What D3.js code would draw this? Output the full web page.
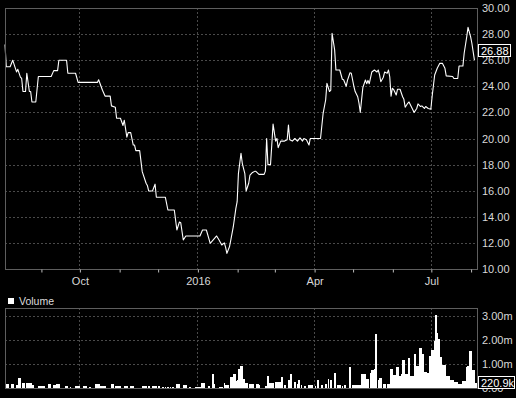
<!DOCTYPE html>
<html>
<head>
<meta charset="utf-8">
<script src="https://cdn.jsdelivr.net/npm/d3@7"></script>
<style>
  html, body { margin: 0; padding: 0; background: #000; }
  svg { display: block; }
  text { font-family: "Liberation Sans", Arial, sans-serif; }
</style>
</head>
<body>
<div id="graf"></div>
<script>
// Precio de cierre (fecha, valor)
const precios = [
  ["2015-08-04", 27.2], ["2015-08-05", 25.5], ["2015-08-08", 25.5], ["2015-08-10", 26.0],
  ["2015-08-13", 25.1], ["2015-08-14", 25.3], ["2015-08-16", 24.7], ["2015-08-17", 24.6],
  ["2015-08-18", 23.6], ["2015-08-20", 23.6], ["2015-08-21", 25.0], ["2015-08-23", 23.6],
  ["2015-08-24", 23.6], ["2015-08-25", 22.8], ["2015-08-28", 22.8], ["2015-08-30", 24.75],
  ["2015-09-09", 24.75], ["2015-09-11", 25.2], ["2015-09-14", 25.2], ["2015-09-15", 26.0],
  ["2015-09-21", 26.0], ["2015-09-22", 25.0], ["2015-09-28", 25.0], ["2015-09-30", 24.3],
  ["2015-10-15", 24.3], ["2015-10-16", 24.5], ["2015-10-19", 23.7], ["2015-10-21", 23.25],
  ["2015-10-25", 23.25], ["2015-10-26", 22.5], ["2015-10-29", 22.4], ["2015-10-30", 21.55],
  ["2015-11-02", 21.55], ["2015-11-04", 21.0], ["2015-11-05", 21.4], ["2015-11-07", 20.1],
  ["2015-11-08", 20.45], ["2015-11-10", 20.45], ["2015-11-12", 19.5], ["2015-11-13", 19.5],
  ["2015-11-14", 19.07], ["2015-11-17", 19.07], ["2015-11-19", 17.46], ["2015-11-22", 16.57],
  ["2015-11-23", 16.4], ["2015-11-24", 15.98], ["2015-11-27", 15.98], ["2015-11-29", 16.5],
  ["2015-11-30", 15.5], ["2015-12-07", 15.5], ["2015-12-09", 14.52], ["2015-12-14", 14.52],
  ["2015-12-16", 12.99], ["2015-12-18", 13.6], ["2015-12-19", 13.55], ["2015-12-21", 12.22],
  ["2015-12-23", 12.53], ["2016-01-03", 12.53], ["2016-01-05", 12.99], ["2016-01-08", 12.99],
  ["2016-01-11", 11.97], ["2016-01-13", 12.2], ["2016-01-16", 12.53], ["2016-01-18", 12.2],
  ["2016-01-20", 11.84], ["2016-01-22", 12.0], ["2016-01-23", 11.66], ["2016-01-24", 11.2],
  ["2016-01-26", 11.7], ["2016-01-27", 12.2], ["2016-01-29", 13.24], ["2016-01-31", 14.65],
  ["2016-02-01", 15.16], ["2016-02-02", 17.33], ["2016-02-04", 18.86], ["2016-02-05", 18.1],
  ["2016-02-06", 17.7], ["2016-02-07", 17.3], ["2016-02-08", 15.98], ["2016-02-10", 16.57],
  ["2016-02-11", 17.2], ["2016-02-13", 17.4], ["2016-02-15", 17.5], ["2016-02-16", 17.45],
  ["2016-02-18", 17.25], ["2016-02-22", 17.25], ["2016-02-23", 17.5], ["2016-02-24", 20.0],
  ["2016-02-25", 18.0], ["2016-02-27", 18.0], ["2016-02-28", 19.5], ["2016-02-29", 21.1],
  ["2016-03-02", 19.8], ["2016-03-03", 20.0], ["2016-03-04", 19.3], ["2016-03-06", 19.8],
  ["2016-03-09", 19.8], ["2016-03-11", 19.9], ["2016-03-12", 21.03], ["2016-03-13", 19.9],
  ["2016-03-15", 19.8], ["2016-03-17", 20.0], ["2016-03-19", 19.8], ["2016-03-21", 20.05],
  ["2016-03-23", 19.8], ["2016-03-24", 20.0], ["2016-03-26", 19.9], ["2016-03-28", 19.5],
  ["2016-03-29", 20.0], ["2016-04-06", 20.0], ["2016-04-08", 21.9], ["2016-04-10", 22.95],
  ["2016-04-11", 24.23], ["2016-04-13", 23.6], ["2016-04-14", 23.7], ["2016-04-15", 28.06],
  ["2016-04-17", 26.8], ["2016-04-18", 25.25], ["2016-04-21", 25.25], ["2016-04-23", 24.54],
  ["2016-04-24", 24.5], ["2016-04-26", 24.0], ["2016-04-27", 24.45], ["2016-04-29", 25.04],
  ["2016-04-30", 25.0], ["2016-05-02", 24.0], ["2016-05-03", 23.6], ["2016-05-05", 23.2],
  ["2016-05-06", 22.7], ["2016-05-07", 22.0], ["2016-05-09", 23.9], ["2016-05-11", 24.48],
  ["2016-05-12", 24.2], ["2016-05-13", 24.45], ["2016-05-14", 24.2], ["2016-05-16", 25.1],
  ["2016-05-18", 25.25], ["2016-05-20", 25.1], ["2016-05-21", 25.25], ["2016-05-22", 24.9],
  ["2016-05-23", 24.35], ["2016-05-25", 24.7], ["2016-05-26", 25.1], ["2016-05-28", 25.0],
  ["2016-05-29", 25.25], ["2016-05-30", 24.7], ["2016-05-31", 23.25], ["2016-06-01", 23.85],
  ["2016-06-02", 23.75], ["2016-06-04", 23.33], ["2016-06-05", 23.77], ["2016-06-07", 23.77],
  ["2016-06-09", 23.2], ["2016-06-10", 23.0], ["2016-06-11", 22.4], ["2016-06-13", 22.7],
  ["2016-06-14", 22.8], ["2016-06-16", 22.4], ["2016-06-18", 22.0], ["2016-06-20", 22.3],
  ["2016-06-21", 22.65], ["2016-06-23", 22.45], ["2016-06-24", 22.5], ["2016-06-26", 22.3],
  ["2016-06-27", 22.45], ["2016-06-29", 22.3], ["2016-07-01", 22.24], ["2016-07-02", 23.2],
  ["2016-07-04", 24.87], ["2016-07-06", 25.38], ["2016-07-08", 25.76], ["2016-07-10", 25.76],
  ["2016-07-12", 25.38], ["2016-07-13", 24.8], ["2016-07-18", 24.75], ["2016-07-19", 24.6],
  ["2016-07-22", 24.6], ["2016-07-23", 25.55], ["2016-07-26", 25.55], ["2016-07-27", 26.53],
  ["2016-07-29", 27.8], ["2016-07-30", 28.52], ["2016-08-01", 27.8], ["2016-08-02", 27.3],
  ["2016-08-04", 26.0]
]

// Volumen diario en millones (fecha, valor)
const volumen = [
  ["2015-08-05", 0.18], ["2015-08-06", 0.18], ["2015-08-09", 0.18], ["2015-08-10", 0.18],
  ["2015-08-13", 0.14], ["2015-08-15", 0.40], ["2015-08-16", 0.40], ["2015-08-18", 0.22],
  ["2015-08-19", 0.22], ["2015-08-21", 0.22], ["2015-08-22", 0.22], ["2015-08-23", 0.22],
  ["2015-08-24", 0.22], ["2015-08-25", 0.11], ["2015-08-26", 0.11], ["2015-08-30", 0.10],
  ["2015-08-31", 0.10], ["2015-09-01", 0.10], ["2015-09-02", 0.10], ["2015-09-03", 0.10],
  ["2015-09-07", 0.18], ["2015-09-08", 0.18], ["2015-09-11", 0.11], ["2015-09-12", 0.11],
  ["2015-09-13", 0.15], ["2015-09-14", 0.15], ["2015-09-15", 0.15], ["2015-09-20", 0.10],
  ["2015-09-21", 0.10], ["2015-09-24", 0.04], ["2015-09-28", 0.08], ["2015-09-29", 0.08],
  ["2015-09-30", 0.08], ["2015-10-01", 0.08], ["2015-10-04", 0.07], ["2015-10-05", 0.07],
  ["2015-10-06", 0.07], ["2015-10-09", 0.06], ["2015-10-14", 0.18], ["2015-10-15", 0.18],
  ["2015-10-16", 0.18], ["2015-10-17", 0.08], ["2015-10-18", 0.08], ["2015-10-19", 0.08],
  ["2015-10-20", 0.08], ["2015-10-21", 0.08], ["2015-10-26", 0.18], ["2015-10-27", 0.18],
  ["2015-10-29", 0.07], ["2015-10-30", 0.07], ["2015-10-31", 0.07], ["2015-11-01", 0.07],
  ["2015-11-02", 0.07], ["2015-11-05", 0.08], ["2015-11-06", 0.08], ["2015-11-07", 0.08],
  ["2015-11-10", 0.08], ["2015-11-11", 0.08], ["2015-11-12", 0.08], ["2015-11-19", 0.07],
  ["2015-11-20", 0.07], ["2015-11-21", 0.07], ["2015-11-22", 0.07], ["2015-11-24", 0.10],
  ["2015-11-27", 0.07], ["2015-11-28", 0.07], ["2015-11-29", 0.07], ["2015-11-30", 0.07],
  ["2015-12-02", 0.07], ["2015-12-05", 0.03], ["2015-12-07", 0.03], ["2015-12-09", 0.03],
  ["2015-12-11", 0.03], ["2015-12-13", 0.03], ["2015-12-16", 0.17], ["2015-12-17", 0.17],
  ["2015-12-18", 0.17], ["2015-12-21", 0.14], ["2015-12-22", 0.14], ["2015-12-23", 0.14],
  ["2015-12-26", 0.03], ["2015-12-31", 0.06], ["2016-01-01", 0.06], ["2016-01-02", 0.06],
  ["2016-01-03", 0.06], ["2016-01-04", 0.22], ["2016-01-05", 0.22], ["2016-01-06", 0.22],
  ["2016-01-10", 0.10], ["2016-01-13", 0.57], ["2016-01-14", 0.18], ["2016-01-18", 0.06],
  ["2016-01-19", 0.06], ["2016-01-20", 0.06], ["2016-01-22", 0.22], ["2016-01-23", 0.14],
  ["2016-01-24", 0.14], ["2016-01-25", 0.14], ["2016-01-27", 0.44], ["2016-01-28", 0.44],
  ["2016-01-29", 0.60], ["2016-01-30", 0.60], ["2016-01-31", 0.28], ["2016-02-01", 0.35],
  ["2016-02-02", 0.78], ["2016-02-03", 0.78], ["2016-02-04", 0.90], ["2016-02-05", 0.90],
  ["2016-02-06", 0.39], ["2016-02-08", 0.22], ["2016-02-09", 0.22], ["2016-02-11", 0.18],
  ["2016-02-12", 0.18], ["2016-02-13", 0.15], ["2016-02-16", 0.18], ["2016-02-17", 0.18],
  ["2016-02-18", 0.14], ["2016-02-23", 0.07], ["2016-02-24", 0.07], ["2016-02-25", 0.49],
  ["2016-02-26", 0.21], ["2016-02-27", 0.21], ["2016-02-28", 0.21], ["2016-02-29", 0.21],
  ["2016-03-02", 0.24], ["2016-03-03", 0.24], ["2016-03-04", 0.24], ["2016-03-05", 0.24],
  ["2016-03-06", 0.24], ["2016-03-07", 0.46], ["2016-03-09", 0.11], ["2016-03-12", 0.32],
  ["2016-03-13", 0.32], ["2016-03-14", 0.60], ["2016-03-17", 0.25], ["2016-03-19", 0.18],
  ["2016-03-20", 0.35], ["2016-03-22", 0.11], ["2016-03-25", 0.07], ["2016-03-28", 0.11],
  ["2016-03-29", 0.11], ["2016-03-30", 0.11], ["2016-04-02", 0.10], ["2016-04-04", 0.32],
  ["2016-04-07", 0.11], ["2016-04-10", 0.18], ["2016-04-12", 0.38], ["2016-04-14", 0.32],
  ["2016-04-17", 0.64], ["2016-04-19", 0.11], ["2016-04-20", 0.11], ["2016-04-21", 0.11],
  ["2016-04-23", 0.07], ["2016-04-25", 0.11], ["2016-04-29", 0.89], ["2016-05-01", 0.11],
  ["2016-05-02", 0.11], ["2016-05-03", 0.11], ["2016-05-04", 0.14], ["2016-05-05", 0.14],
  ["2016-05-06", 0.14], ["2016-05-07", 0.14], ["2016-05-08", 0.60], ["2016-05-09", 0.60],
  ["2016-05-10", 0.60], ["2016-05-11", 0.60], ["2016-05-12", 0.39], ["2016-05-13", 0.39],
  ["2016-05-15", 0.63], ["2016-05-16", 0.74], ["2016-05-17", 0.74], ["2016-05-18", 0.80],
  ["2016-05-19", 2.26], ["2016-05-21", 0.32], ["2016-05-22", 0.43], ["2016-05-23", 0.43],
  ["2016-05-25", 0.15], ["2016-05-26", 0.15], ["2016-05-28", 0.18], ["2016-05-29", 0.18],
  ["2016-05-30", 0.18], ["2016-05-31", 0.80], ["2016-06-01", 0.80], ["2016-06-02", 0.53],
  ["2016-06-03", 0.53], ["2016-06-04", 0.87], ["2016-06-05", 0.87], ["2016-06-06", 0.49],
  ["2016-06-07", 0.49], ["2016-06-08", 0.60], ["2016-06-09", 1.18], ["2016-06-10", 1.18],
  ["2016-06-11", 0.57], ["2016-06-12", 0.57], ["2016-06-13", 0.57], ["2016-06-14", 1.26],
  ["2016-06-15", 0.49], ["2016-06-16", 0.49], ["2016-06-17", 0.49], ["2016-06-18", 1.43],
  ["2016-06-19", 1.43], ["2016-06-20", 0.90], ["2016-06-21", 0.90], ["2016-06-22", 1.68],
  ["2016-06-23", 1.68], ["2016-06-24", 1.43], ["2016-06-25", 1.43], ["2016-06-26", 0.67],
  ["2016-06-27", 0.67], ["2016-06-28", 0.63], ["2016-06-29", 0.63], ["2016-06-30", 1.32],
  ["2016-07-01", 1.32], ["2016-07-02", 1.57], ["2016-07-03", 1.57], ["2016-07-04", 1.94],
  ["2016-07-05", 3.03], ["2016-07-06", 2.29], ["2016-07-07", 2.05], ["2016-07-08", 1.29],
  ["2016-07-09", 1.29], ["2016-07-10", 0.94], ["2016-07-11", 0.94], ["2016-07-12", 0.94],
  ["2016-07-13", 0.49], ["2016-07-14", 0.49], ["2016-07-15", 0.49], ["2016-07-16", 0.32],
  ["2016-07-17", 0.32], ["2016-07-18", 0.32], ["2016-07-19", 0.25], ["2016-07-20", 0.25],
  ["2016-07-21", 0.25], ["2016-07-22", 0.18], ["2016-07-23", 0.18], ["2016-07-24", 0.18],
  ["2016-07-25", 0.18], ["2016-07-26", 0.28], ["2016-07-27", 0.28], ["2016-07-28", 0.28],
  ["2016-07-29", 0.87], ["2016-07-30", 0.90], ["2016-07-31", 1.53], ["2016-08-01", 1.53],
  ["2016-08-02", 0.76], ["2016-08-03", 0.76], ["2016-08-04", 0.74], ["2016-08-05", 0.22]
]

// Ejes y etiquetas
const rangoFechas = ["2015-08-04", "2016-08-06"]
const trimestres = ["2015-10-01", "2016-01-01", "2016-04-01", "2016-07-01"]
const etiquetasTrimestre = ["Oct", "2016", "Apr", "Jul"]
const ticksPrecio = [10, 12, 14, 16, 18, 20, 22, 24, 26, 28, 30]
const ticksVolumen = [0, 1, 2, 3]
const ultimoPrecio = "26.88"
const ultimoVolumen = "220.9k"

const parse = d3.timeParse("%Y-%m-%d")
const xAccessor = (d) => parse(d[0])
const yAccessor = (d) => d[1]

const draw = () => {
  const anchoTotal = 516
  const altoTotal = 398

  // Paneles
  const precio = { left: 5, right: 477, top: 8, bottom: 269 }
  const vol = { left: 5, right: 477, top: 308, bottom: 388 }

  const svg = d3.select("#graf")
    .append("svg")
    .attr("width", anchoTotal)
    .attr("height", altoTotal)

  svg.append("rect")
    .attr("width", anchoTotal)
    .attr("height", altoTotal)
    .attr("fill", "#000")

  // Escaladores
  const x = d3.scaleTime()
    .domain(rangoFechas.map(parse))
    .range([precio.left, precio.right])

  const y = d3.scaleLinear()
    .domain([10, 30])
    .range([precio.bottom, precio.top])

  const yVol = d3.scaleLinear()
    .domain([0, 80 / 24])
    .range([vol.bottom, vol.top])

  const px = (v) => Math.round(v) + 0.5
  const fechasTrim = trimestres.map(parse)

  // Rejilla
  const rejilla = (panel, yScale, valores) => {
    const g = svg.append("g")
      .attr("stroke", "#4a4a4a")
      .attr("stroke-dasharray", "2,2")
      .attr("shape-rendering", "crispEdges")

    g.selectAll(".h")
      .data(valores)
      .enter()
      .append("line")
      .attr("x1", panel.left)
      .attr("x2", panel.right)
      .attr("y1", (d) => px(yScale(d)))
      .attr("y2", (d) => px(yScale(d)))

    g.selectAll(".v")
      .data(fechasTrim)
      .enter()
      .append("line")
      .attr("x1", (d) => px(x(d)))
      .attr("x2", (d) => px(x(d)))
      .attr("y1", panel.top)
      .attr("y2", panel.bottom)
  }

  rejilla(precio, y, ticksPrecio.slice(1, -1))
  rejilla(vol, yVol, ticksVolumen.slice(1))

  // Barras de volumen
  const anchoDia = x(parse("2015-08-05")) - x(parse("2015-08-04"))

  svg.append("g")
    .selectAll("rect")
    .data(volumen)
    .enter()
    .append("rect")
    .attr("x", (d) => x(xAccessor(d)) - anchoDia / 2)
    .attr("width", anchoDia + 0.4)
    .attr("y", (d) => yVol(yAccessor(d)))
    .attr("height", (d) => yVol(0) - yVol(yAccessor(d)))
    .attr("fill", "#fff")
    .attr("shape-rendering", "crispEdges")

  // Linea de precio
  svg.append("path")
    .datum(precios)
    .attr("fill", "none")
    .attr("stroke", "#fff")
    .attr("stroke-width", 1.1)
    .attr("stroke-linejoin", "round")
    .attr("d", d3.line()
      .x((d) => x(xAccessor(d)))
      .y((d) => y(yAccessor(d))))

  // Marcos
  ;[precio, vol].forEach((p) => {
    svg.append("rect")
      .attr("x", p.left + 0.5)
      .attr("y", p.top + 0.5)
      .attr("width", p.right - p.left)
      .attr("height", p.bottom - p.top)
      .attr("fill", "none")
      .attr("stroke", "#5e5e5e")
  })

  // Eje x
  const xAxis = svg.append("g")
    .attr("transform", `translate(0.5, ${precio.bottom + 0.5})`)
    .call(d3.axisBottom(x)
      .ticks(d3.timeMonth.every(1))
      .tickSize(3)
      .tickPadding(5)
      .tickFormat((d) => {
        const i = fechasTrim.findIndex((t) => +t === +d)
        return i >= 0 ? etiquetasTrimestre[i] : ""
      }))

  xAxis.select(".domain").remove()
  xAxis.selectAll("line").attr("stroke", "#bbb")
  xAxis.selectAll("text")
    .attr("fill", "#d8d8d8")
    .style("font-size", "11px")
    .style("font-family", "'Liberation Sans', Arial, sans-serif")

  // Eje y precio
  const yAxis = svg.append("g")
    .attr("transform", `translate(${precio.right}, 0)`)
    .call(d3.axisRight(y)
      .tickValues(ticksPrecio)
      .tickSize(0)
      .tickPadding(5)
      .tickFormat(d3.format(".2f")))

  // Eje y volumen
  const yVolAxis = svg.append("g")
    .attr("transform", `translate(${vol.right}, 0)`)
    .call(d3.axisRight(yVol)
      .tickValues(ticksVolumen)
      .tickSize(0)
      .tickPadding(5)
      .tickFormat((d) => d === 0 ? "0.00" : d.toFixed(2) + "m"))

  ;[yAxis, yVolAxis].forEach((a) => {
    a.select(".domain").remove()
    a.selectAll("text")
      .attr("fill", "#d8d8d8")
      .style("font-size", "11px")
      .style("font-family", "'Liberation Sans', Arial, sans-serif")
  })

  // Cajas de ultimo valor
  const caja = (cy, w, texto) => {
    svg.append("rect")
      .attr("x", precio.right + 1.5)
      .attr("y", Math.round(cy - 6.5) + 0.5)
      .attr("width", w)
      .attr("height", 12)
      .attr("fill", "#000")
      .attr("stroke", "#fff")

    svg.append("text")
      .attr("x", precio.right + 4)
      .attr("y", cy)
      .attr("dy", "0.36em")
      .attr("fill", "#fff")
      .style("font-size", "11px")
      .text(texto)
  }

  caja(y(+ultimoPrecio) + 2, 32, ultimoPrecio)
  caja(yVol(yAccessor(volumen[volumen.length - 1])), 36, ultimoVolumen)

  // Leyenda
  svg.append("rect")
    .attr("x", 8)
    .attr("y", 298)
    .attr("width", 6)
    .attr("height", 6)
    .attr("fill", "#fff")

  svg.append("text")
    .attr("x", 19)
    .attr("y", 304.5)
    .attr("fill", "#ddd")
    .style("font-size", "10.5px")
    .text("Volume")
}

draw()
</script>
</body>
</html>
